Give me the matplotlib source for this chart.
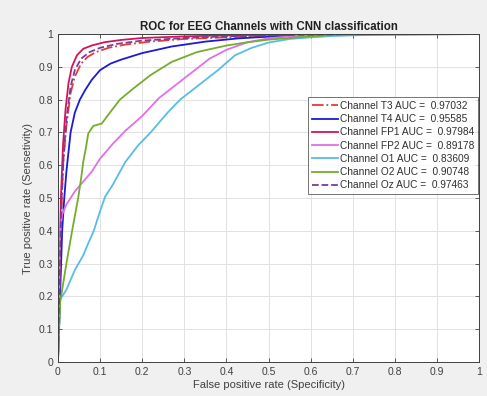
import matplotlib
matplotlib.use("Agg")
import matplotlib.pyplot as plt

plt.rcParams['font.family'] = ['Liberation Sans', 'DejaVu Sans']

labels = ["Channel T3 AUC =  0.97032", "Channel T4 AUC =  0.95585",
          "Channel FP1 AUC =  0.97984", "Channel FP2 AUC =  0.89178",
          "Channel O1 AUC =  0.83609", "Channel O2 AUC =  0.90748",
          "Channel Oz AUC =  0.97463"]

t3_x = [0, 0.003, 0.008, 0.012, 0.02, 0.03, 0.04, 0.055, 0.07, 0.09, 0.12, 0.16, 0.22, 0.3, 0.4, 0.5, 0.6, 0.8, 1.0]
t3_y = [0, 0.2, 0.45, 0.6, 0.72, 0.82, 0.87, 0.91, 0.93, 0.945, 0.958, 0.968, 0.977, 0.985, 0.99, 0.995, 0.998, 1, 1]

t4_x = [0, 0.005, 0.01, 0.015, 0.02, 0.03, 0.04, 0.052, 0.065, 0.08, 0.1, 0.125, 0.15, 0.2, 0.27, 0.35, 0.43, 0.5, 0.6, 0.7, 1]
t4_y = [0, 0.2, 0.4, 0.5, 0.58, 0.7, 0.76, 0.8, 0.83, 0.86, 0.89, 0.91, 0.922, 0.942, 0.962, 0.977, 0.987, 0.992, 0.997, 1, 1]

fp1_x = [0, 0.003, 0.007, 0.012, 0.018, 0.025, 0.033, 0.045, 0.06, 0.08, 0.11, 0.15, 0.2, 0.3, 0.4, 0.5, 0.7, 1]
fp1_y = [0, 0.25, 0.5, 0.66, 0.77, 0.85, 0.9, 0.935, 0.955, 0.965, 0.975, 0.982, 0.988, 0.993, 0.996, 0.998, 1, 1]

fp2_x = [0, 0.003, 0.005, 0.01, 0.02, 0.04, 0.06, 0.08, 0.1, 0.13, 0.16, 0.2, 0.24, 0.28, 0.32, 0.36, 0.4, 0.45, 0.5, 0.55, 0.6, 0.7, 1]
fp2_y = [0, 0.2, 0.4, 0.45, 0.48, 0.52, 0.55, 0.58, 0.62, 0.665, 0.705, 0.75, 0.805, 0.845, 0.885, 0.925, 0.952, 0.975, 0.987, 0.993, 0.997, 1, 1]

o1_x = [0, 0.005, 0.02, 0.04, 0.06, 0.072, 0.085, 0.1, 0.112, 0.13, 0.16, 0.19, 0.22, 0.26, 0.29, 0.32, 0.35, 0.38, 0.42, 0.46, 0.5, 0.55, 0.6, 0.65, 0.75, 1]
o1_y = [0, 0.19, 0.22, 0.28, 0.325, 0.362, 0.4, 0.46, 0.504, 0.54, 0.61, 0.66, 0.70, 0.76, 0.80, 0.83, 0.86, 0.89, 0.935, 0.958, 0.974, 0.985, 0.99, 0.994, 0.998, 1]

o2_x = [0, 0.005, 0.02, 0.035, 0.048, 0.055, 0.06, 0.066, 0.072, 0.084, 0.104, 0.116, 0.147, 0.18, 0.22, 0.27, 0.33, 0.4, 0.45, 0.5, 0.57, 0.65, 1]
o2_y = [0, 0.18, 0.3, 0.41, 0.5, 0.56, 0.61, 0.65, 0.697, 0.72, 0.727, 0.748, 0.8, 0.835, 0.875, 0.915, 0.945, 0.965, 0.975, 0.983, 0.99, 0.997, 1]

oz_x = [0, 0.003, 0.008, 0.013, 0.02, 0.03, 0.04, 0.055, 0.075, 0.1, 0.14, 0.2, 0.3, 0.4, 0.55, 0.7, 1]
oz_y = [0, 0.2, 0.48, 0.62, 0.74, 0.84, 0.89, 0.925, 0.945, 0.958, 0.97, 0.98, 0.988, 0.993, 0.997, 1, 1]

x_ticks = [0, 0.1, 0.2, 0.3, 0.4, 0.5, 0.6, 0.7, 0.8, 0.9, 1]
x_ticklabels = ["0", "0.1", "0.2", "0.3", "0.4", "0.5", "0.6", "0.7", "0.8", "0.9", "1"]
y_ticks = x_ticks
y_ticklabels = x_ticklabels

series = [
    (t3_x, t3_y, "#e8383a", "-."),
    (t4_x, t4_y, "#1a1ad8", "-"),
    (fp1_x, fp1_y, "#d4145a", "-"),
    (fp2_x, fp2_y, "#e070e8", "-"),
    (o1_x, o1_y, "#58bde6", "-"),
    (o2_x, o2_y, "#74ad2e", "-"),
    (oz_x, oz_y, "#7a3c9a", "--"),
]

fig = plt.figure(figsize=(4.87, 3.96), dpi=100, facecolor="#f0f0f0")
ax = fig.add_axes([0.119, 0.086, 0.865, 0.828])
ax.set_facecolor("white")

for (xs, ys, c, ls), lab in zip(series, labels):
    ax.plot(xs, ys, color=c, linestyle=ls, linewidth=1.3, label=lab)

ax.set_xlim(0, 1)
ax.set_ylim(0, 1)
ax.set_xticks(x_ticks)
ax.set_xticklabels(x_ticklabels)
ax.set_yticks(y_ticks)
ax.set_yticklabels(y_ticklabels)
ax.grid(True, color="#e2e2e2", linewidth=0.7)
ax.tick_params(direction="in", length=3, labelsize=7.5, colors="#404040",
               top=True, right=True, width=0.6)
for s in ax.spines.values():
    s.set_color("#404040")
    s.set_linewidth(0.7)

ax.set_title("ROC for EEG Channels with CNN classification", fontsize=8.3,
             fontweight="bold", color="#202020", pad=3)
ax.set_xlabel("False positive rate (Specificity)", fontsize=8, color="#404040", labelpad=2)
ax.set_ylabel("True positive rate (Sensetivity)", fontsize=8, color="#404040", labelpad=4)

leg = ax.legend(loc="upper right", bbox_to_anchor=(1.0, 0.81), fontsize=7.3,
                frameon=True, fancybox=False, edgecolor="#505050",
                handlelength=2.6, handletextpad=0.2, borderpad=0.35,
                labelspacing=0.32, borderaxespad=0.1)
leg.get_frame().set_linewidth(0.7)
for t in leg.get_texts():
    t.set_color("#303030")

fig.savefig("out.png", dpi=100, facecolor=fig.get_facecolor())
